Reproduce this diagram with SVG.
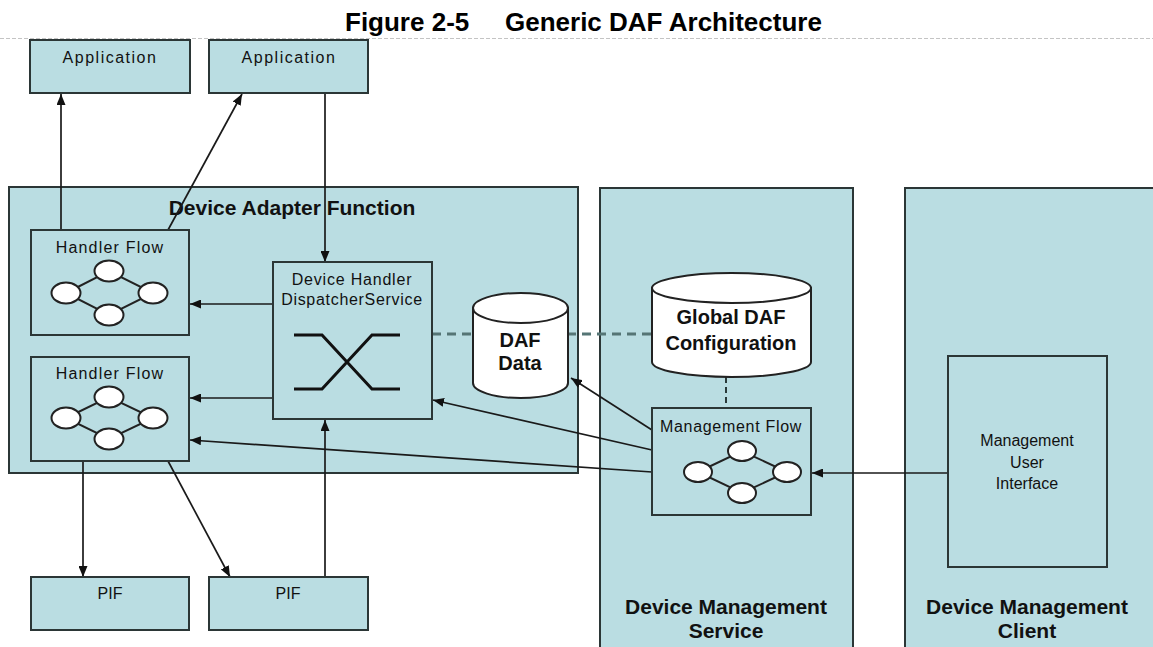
<svg xmlns="http://www.w3.org/2000/svg" width="1153" height="647" viewBox="0 0 1153 647">
  <defs>
    <marker id="ah" markerUnits="userSpaceOnUse" markerWidth="11" markerHeight="9" refX="11" refY="4.5" orient="auto">
      <path d="M0,0 L11,4.5 L0,9 Z" fill="#111"/>
    </marker>
    <style>
      .box{fill:#badde2;stroke:#2b3636;stroke-width:2}
      .lbl{font-family:"Liberation Sans",Arial,sans-serif;font-size:16px;fill:#111;text-anchor:middle}
      .bold{font-weight:bold;font-size:21px}
      .node{fill:#fff;stroke:#222;stroke-width:2}
      .link{stroke:#222;stroke-width:2}
      .edge{fill:none;stroke:#1a1a1a;stroke-width:1.7}
      .arrow{marker-end:url(#ah)}
      .db{fill:#fff;stroke:#222;stroke-width:2}
    </style>
  </defs>
  <rect width="1153" height="647" fill="#fff"/>

  <!-- caption and rule -->
  <g id="title" font-family="'Liberation Sans',Arial,sans-serif" font-weight="bold" font-size="26" fill="#000">
    <text x="345" y="31">Figure 2-5</text>
    <text x="505" y="31">Generic DAF Architecture</text>
  </g>
  <line x1="0" y1="38.5" x2="1153" y2="38.5" stroke="#c4c4c4" stroke-width="1" stroke-dasharray="4 2"/>

  <!-- containers -->
  <g id="device-adapter-function">
    <rect class="box" x="9" y="187" width="569" height="286"/>
    <text class="lbl bold" x="292" y="215">Device Adapter Function</text>
  </g>
  <g id="device-management-service">
    <rect class="box" x="600" y="188" width="253" height="480"/>
    <text class="lbl bold" x="726" y="614">Device Management</text>
    <text class="lbl bold" x="726" y="638">Service</text>
  </g>
  <g id="device-management-client">
    <rect class="box" x="905" y="188" width="270" height="480"/>
    <text class="lbl bold" x="1027" y="614">Device Management</text>
    <text class="lbl bold" x="1027" y="638">Client</text>
  </g>

  <!-- connectors -->
  <g id="connectors">
    <line class="edge arrow" x1="61" y1="230" x2="61" y2="94"/>
    <line class="edge arrow" x1="168" y1="230" x2="242" y2="94"/>
    <line class="edge arrow" x1="325" y1="93" x2="325" y2="262"/>
    <line class="edge arrow" x1="273" y1="304" x2="190" y2="304"/>
    <line class="edge arrow" x1="273" y1="398" x2="190" y2="398"/>
    <line class="edge arrow" x1="83" y1="461" x2="83" y2="577"/>
    <line class="edge arrow" x1="168" y1="461" x2="230" y2="577"/>
    <line class="edge arrow" x1="325" y1="577" x2="325" y2="420"/>
    <line class="edge arrow" x1="652" y1="430" x2="571" y2="378"/>
    <line class="edge arrow" x1="652" y1="450" x2="433" y2="400"/>
    <line class="edge arrow" x1="652" y1="472" x2="190" y2="440"/>
    <line class="edge arrow" x1="948" y1="473" x2="812" y2="473"/>
    <line x1="432" y1="334" x2="652" y2="334" stroke="#557575" stroke-width="3" stroke-dasharray="9 6"/>
    <line x1="726" y1="377" x2="726" y2="408" stroke="#2a3a3a" stroke-width="2" stroke-dasharray="6 4"/>
  </g>

  <!-- application boxes -->
  <g id="app1">
    <rect class="box" x="30" y="40" width="160" height="53"/>
    <text class="lbl" x="110" y="63" letter-spacing="1.5">Application</text>
  </g>
  <g id="app2">
    <rect class="box" x="209" y="40" width="159" height="53"/>
    <text class="lbl" x="289" y="63" letter-spacing="1.5">Application</text>
  </g>

  <!-- handler flows -->
  <g id="handler-flow-1">
    <rect class="box" x="31" y="230" width="158" height="105"/>
    <text class="lbl" x="110" y="253" letter-spacing="1.2">Handler Flow</text>
    <path class="link" fill="none" d="M66,293 L109,271 L153,293 L109,315 Z"/>
    <ellipse class="node" cx="109" cy="271" rx="14.5" ry="10.5"/>
    <ellipse class="node" cx="66" cy="293" rx="14.5" ry="10.5"/>
    <ellipse class="node" cx="153" cy="293" rx="14.5" ry="10.5"/>
    <ellipse class="node" cx="109" cy="315" rx="14.5" ry="10.5"/>
  </g>
  <g id="handler-flow-2">
    <rect class="box" x="31" y="357" width="158" height="104"/>
    <text class="lbl" x="110" y="379" letter-spacing="1.2">Handler Flow</text>
    <path class="link" fill="none" d="M66,418 L109,397 L153,418 L109,439 Z"/>
    <ellipse class="node" cx="109" cy="397" rx="14.5" ry="10.5"/>
    <ellipse class="node" cx="66" cy="418" rx="14.5" ry="10.5"/>
    <ellipse class="node" cx="153" cy="418" rx="14.5" ry="10.5"/>
    <ellipse class="node" cx="109" cy="439" rx="14.5" ry="10.5"/>
  </g>

  <!-- dispatcher -->
  <g id="dispatcher">
    <rect class="box" x="273" y="262" width="159" height="157"/>
    <text class="lbl" x="352" y="285" letter-spacing="0.8">Device Handler</text>
    <text class="lbl" x="352" y="305" letter-spacing="0.7">DispatcherService</text>
    <path d="M294,335 L322,335 L372,389 L400,389 M294,389 L322,389 L372,335 L400,335" fill="none" stroke="#111" stroke-width="3"/>
  </g>

  <!-- data stores -->
  <g id="daf-data">
    <path class="db" d="M473,308 L473,383 A47.5,15 0 0 0 568,383 L568,308 Z"/>
    <ellipse class="db" cx="520.5" cy="308" rx="47.5" ry="15"/>
    <text class="lbl bold" font-size="20" x="520" y="347" style="font-size:20px">DAF</text>
    <text class="lbl bold" x="520" y="370" style="font-size:20px">Data</text>
  </g>
  <g id="global-daf-configuration">
    <path class="db" d="M652,288 L652,362 A79.5,15 0 0 0 811,362 L811,288 Z"/>
    <ellipse class="db" cx="731.5" cy="288" rx="79.5" ry="15"/>
    <text class="lbl bold" x="731" y="324" style="font-size:20px">Global DAF</text>
    <text class="lbl bold" x="731" y="350" style="font-size:20px">Configuration</text>
  </g>

  <!-- management flow -->
  <g id="management-flow">
    <rect class="box" x="652" y="408" width="159" height="107"/>
    <text class="lbl" x="731" y="432" letter-spacing="0.7">Management Flow</text>
    <path class="link" fill="none" d="M698,472 L742,451 L787,472 L742,493 Z"/>
    <ellipse class="node" cx="742" cy="451" rx="14" ry="10"/>
    <ellipse class="node" cx="698" cy="472" rx="14" ry="10"/>
    <ellipse class="node" cx="787" cy="472" rx="14" ry="10"/>
    <ellipse class="node" cx="742" cy="493" rx="14" ry="10"/>
  </g>

  <!-- management user interface -->
  <g id="management-ui">
    <rect class="box" x="948" y="356" width="159" height="211"/>
    <text class="lbl" x="1027" y="446">Management</text>
    <text class="lbl" x="1027" y="468">User</text>
    <text class="lbl" x="1027" y="489">Interface</text>
  </g>

  <!-- physical interfaces -->
  <g id="pif1">
    <rect class="box" x="31" y="577" width="158" height="53"/>
    <text class="lbl" x="110" y="599">PIF</text>
  </g>
  <g id="pif2">
    <rect class="box" x="209" y="577" width="159" height="53"/>
    <text class="lbl" x="288" y="599">PIF</text>
  </g>
</svg>
